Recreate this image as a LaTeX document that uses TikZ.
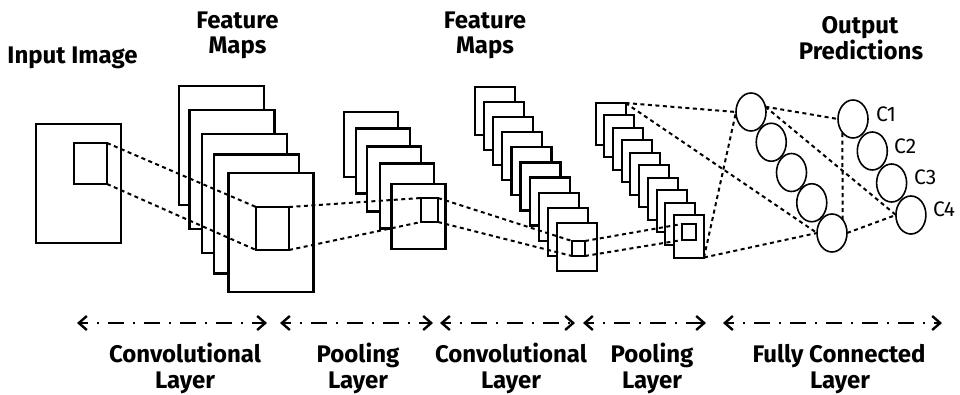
\documentclass[tikz,border=0pt]{standalone}
\usepackage{fontspec}
\setmainfont{Fira Sans}
\usetikzlibrary{arrows.meta,shapes.geometric}
\begin{document}
\begin{tikzpicture}[x=1pt,y=-1pt,
  box/.style={draw,line width=2.2pt,fill=white,inner sep=0pt,outer sep=0pt},
  link/.style={line width=2pt,dash pattern=on 4pt off 3.5pt},
  neuron/.style={draw,ellipse,line width=1.6pt,minimum width=30pt,minimum height=38pt,inner sep=0pt,outer sep=0pt},
  layerspan/.style={line width=2pt,dash pattern=on 2pt off 9pt on 16pt off 9pt,dash phase=19pt,
    {Straight Barb[length=8pt,width=14pt,line width=2.4pt]}-{Straight Barb[length=8pt,width=14pt,line width=2.4pt]}},
  lab/.style={font=\fontsize{24}{26}\selectfont\bfseries,anchor=base,inner sep=0pt},
  cl/.style={font=\fontsize{21}{24}\selectfont,anchor=base west,inner sep=0pt}]
\useasboundingbox (0,0) rectangle (960,395);

% input image
\node[box,minimum width=85pt,minimum height=119pt] (in) at (78.5,183.5) {};
\node[box,minimum width=33pt,minimum height=41pt] (inw) at (90.5,163.5) {};

% feature maps 1
\foreach \n/\x/\y in {1/221.5/145.5,2/232/169.5,3/244.5/193.5,4/256.5/214,5/271/232.5}
  \node[box,minimum width=85pt,minimum height=119pt] (fa\n) at (\x,\y) {};
\node[box,minimum width=33pt,minimum height=43pt] (faw) at (272.5,228.5) {};

% pooling 1
\foreach \n/\x/\y in {1/371/144.5,2/383/161,3/394/179,4/407/196,5/418.5/216.5}
  \node[box,minimum width=54pt,minimum height=65pt] (pa\n) at (\x,\y) {};
\node[box,minimum width=17pt,minimum height=24pt] (paw) at (429.5,210) {};

% feature maps 2
\foreach \n in {1,...,10}
  \node[box,minimum width=40pt,minimum height=48pt] (fb\n) at ({495+(\n-1)*9.11},{111+(\n-1)*15.1}) {};
\node[box,minimum width=13pt,minimum height=15pt] (fbw) at (578.5,248.5) {};

% pooling 2
\foreach \n in {1,...,10}
  \node[box,line width=2pt,minimum width=30pt,minimum height=42pt] (pb\n) at ({610.5+(\n-1)*8.72},{124+(\n-1)*12.5}) {};
\node[box,line width=2pt,minimum width=14pt,minimum height=16pt] (pbw) at (689,232) {};

% fully connected
\foreach \n in {1,...,5}
  \node[neuron] (h\n) at ({751+(\n-1)*20.25},{112+(\n-1)*30.25}) {};
\foreach \n in {1,...,4}
  \node[neuron] (o\n) at ({853+(\n-1)*19.3},{119+(\n-1)*32}) {};

\node[cl] (c1) at (876,122) {C1};
\node[cl] (c2) at (894,154) {C2};
\node[cl] (c3) at (914,185) {C3};
\node[cl] (c4) at (933,217) {C4};

% dotted connections
\draw[link] (inw.north east) -- (faw.north west);
\draw[link] (inw.south east) -- (faw.south west);
\draw[link] (faw.north east) -- (paw.north west);
\draw[link] (faw.south east) -- (paw.south west);
\draw[link] (paw.north east) -- (fbw.north west);
\draw[link] (paw.south east) -- (fbw.south west);
\draw[link] (fbw.north east) -- (pbw.north west);
\draw[link] (fbw.south east) -- (pbw.south west);
\draw[link] (pb1.north east) -- (h1.west);
\draw[link] (pb1.north east) -- (h5.west);
\draw[link] (pb10.south east) -- (h1.west);
\draw[link] (pb10.south east) -- (h5.west);
\draw[link] (h1.20) -- (o1.west);
\draw[link] (h1.20) -- (o4.west);
\draw[link] (h5.north east) -- (o1.south west);
\draw[link] (h5.east) -- (o4.west);

% top labels
\node[lab] (tin) at (72.5,64) {Input Image};
\node[lab] (tfa1) at (237.5,29) {Feature};
\node[lab] (tfa2) at (237.5,54) {Maps};
\node[lab] (tfb1) at (485,29) {Feature};
\node[lab] (tfb2) at (485,54) {Maps};
\node[lab] (tout1) at (860,34) {Output};
\node[lab] (tout2) at (861,60) {Predictions};

% layer spans
\coordinate (a1l) at (77,323);  \coordinate (a1r) at (267,323);
\coordinate (a2l) at (280,323); \coordinate (a2r) at (433,323);
\coordinate (a3l) at (440,323); \coordinate (a3r) at (575,323);
\coordinate (a4l) at (583,323); \coordinate (a4r) at (706,323);
\coordinate (a5l) at (723,323); \coordinate (a5r) at (942,323);
\draw[layerspan] (a1l) -- (a1r);
\draw[layerspan] (a2l) -- (a2r);
\draw[layerspan] (a3l) -- (a3r);
\draw[layerspan] (a4l) -- (a4r);
\draw[layerspan] (a5l) -- (a5r);

% bottom labels
\node[lab] (l1a) at (185,362) {Convolutional};
\node[lab] (l1b) at (185,388) {Layer};
\node[lab] (l2a) at (358,362) {Pooling};
\node[lab] (l2b) at (358,388) {Layer};
\node[lab] (l3a) at (511,362) {Convolutional};
\node[lab] (l3b) at (511,388) {Layer};
\node[lab] (l4a) at (652,362) {Pooling};
\node[lab] (l4b) at (652,388) {Layer};
\node[lab] (l5a) at (839,362) {Fully Connected};
\node[lab] (l5b) at (840,388) {Layer};
\end{tikzpicture}
\end{document}
